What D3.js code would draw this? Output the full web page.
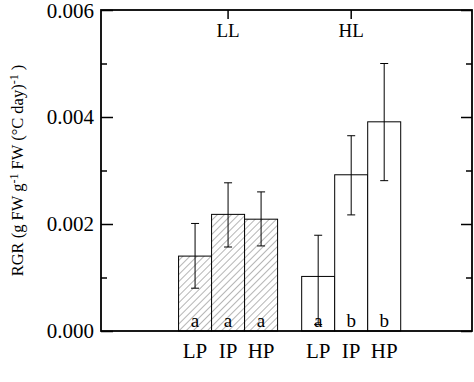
<!DOCTYPE html>
<html>
<head>
<meta charset="utf-8">
<script src="https://cdn.jsdelivr.net/npm/d3@7"></script>
<style>
  body { margin: 0; background: #fff; }
  text { font-family: "Liberation Serif", "DejaVu Serif", serif; fill: #000; }
</style>
</head>
<body>
<div id="chart"></div>
<script>
// data
var groups = ['LL', 'HL'];
var treatments = ['LP', 'IP', 'HP'];
var llMean = [0.00140, 0.00218, 0.00209];
var llLow  = [0.00080, 0.00157, 0.00159];
var llHigh = [0.00201, 0.00277, 0.00260];
var hlMean = [0.00102, 0.00292, 0.00391];
var hlLow  = [0.00012, 0.00217, 0.00281];
var hlHigh = [0.00179, 0.00365, 0.00500];
var llLetters = ['a', 'a', 'a'];
var hlLetters = ['a', 'b', 'b'];
var yTicks = [0, 0.002, 0.004, 0.006];
var yMinor = [0.001, 0.003, 0.005];

var width = 474, height = 382;
var margin = {left: 101, right: 2, top: 10, bottom: 51};
var gap = 0.73; // spacing between the two groups, in bar widths

var bars = [];
treatments.forEach((t, i) => bars.push({g: 'LL', t: t, pos: i, v: llMean[i], lo: llLow[i], hi: llHigh[i], l: llLetters[i]}));
treatments.forEach((t, i) => bars.push({g: 'HL', t: t, pos: 3 + gap + i, v: hlMean[i], lo: hlLow[i], hi: hlHigh[i], l: hlLetters[i]}));

var svg = d3.select('#chart').append('svg')
    .attr('width', width)
    .attr('height', height);

var x = d3.scaleLinear().domain([-2.85, 8.39]).range([margin.left, width - margin.right]);
var y = d3.scaleLinear().domain([0, 0.006]).range([height - margin.bottom, margin.top]);
var bw = x(1) - x(0);

var defs = svg.append('defs');
var pat = defs.append('pattern')
    .attr('id', 'hatch')
    .attr('patternUnits', 'userSpaceOnUse')
    .attr('width', 5).attr('height', 5)
    .attr('patternTransform', 'rotate(45)');
pat.append('rect').attr('width', 5).attr('height', 5).attr('fill', '#fff');
pat.append('line')
    .attr('x1', 0).attr('y1', 0).attr('x2', 0).attr('y2', 5)
    .attr('stroke', '#777').attr('stroke-width', 1.1);

// bars
svg.append('g').selectAll('rect').data(bars).enter()
    .append('rect')
    .attr('x', d => x(d.pos) - bw / 2)
    .attr('y', d => y(d.v))
    .attr('width', bw)
    .attr('height', d => y(0) - y(d.v))
    .attr('fill', d => d.g == 'LL' ? 'url(#hatch)' : '#fff')
    .attr('stroke', '#000')
    .attr('stroke-width', 1);

// letters inside bars
svg.append('g').selectAll('text').data(bars).enter()
    .append('text')
    .attr('x', d => x(d.pos))
    .attr('y', y(0) - 4)
    .attr('text-anchor', 'middle')
    .style('font-size', '19px')
    .text(d => d.l);

// error bars
var err = svg.append('g').attr('stroke', '#000').attr('stroke-width', 1).attr('fill', 'none');
err.selectAll('line.v').data(bars).enter().append('line').attr('class', 'v')
    .attr('x1', d => x(d.pos)).attr('x2', d => x(d.pos))
    .attr('y1', d => y(d.lo)).attr('y2', d => y(d.hi));
err.selectAll('line.t').data(bars).enter().append('line').attr('class', 't')
    .attr('x1', d => x(d.pos) - 4).attr('x2', d => x(d.pos) + 4)
    .attr('y1', d => y(d.hi)).attr('y2', d => y(d.hi));
err.selectAll('line.b').data(bars).enter().append('line').attr('class', 'b')
    .attr('x1', d => x(d.pos) - 4).attr('x2', d => x(d.pos) + 4)
    .attr('y1', d => y(d.lo)).attr('y2', d => y(d.lo));

// frame
svg.append('rect')
    .attr('x', x.range()[0]).attr('y', y.range()[1])
    .attr('width', x.range()[1] - x.range()[0])
    .attr('height', y.range()[0] - y.range()[1])
    .attr('fill', 'none').attr('stroke', '#000').attr('stroke-width', 1.8);

// left axis
var left = svg.append('g').attr('transform', `translate(${x.range()[0]},0)`)
    .call(d3.axisRight(y).tickValues(yTicks).tickSize(12).tickFormat(''));
left.select('.domain').remove();
left.selectAll('line').attr('stroke-width', 1.5);
svg.append('g').selectAll('text').data(yTicks).enter().append('text')
    .attr('x', x.range()[0] - 7)
    .attr('y', d => Math.max(y(d), 11))
    .attr('dy', '0.35em')
    .attr('text-anchor', 'end')
    .style('font-size', '21px')
    .text(d3.format('.3f'));
var leftMinor = svg.append('g').attr('transform', `translate(${x.range()[0]},0)`)
    .call(d3.axisRight(y).tickValues(yMinor).tickSize(6).tickFormat(''));
leftMinor.select('.domain').remove();
leftMinor.selectAll('line').attr('stroke-width', 1.5);

// right axis
var right = svg.append('g').attr('transform', `translate(${x.range()[1]},0)`)
    .call(d3.axisLeft(y).tickValues(yTicks).tickSize(11).tickFormat(''));
right.select('.domain').remove();
right.selectAll('line').attr('stroke-width', 1.5);
var rightMinor = svg.append('g').attr('transform', `translate(${x.range()[1]},0)`)
    .call(d3.axisLeft(y).tickValues(yMinor).tickSize(6).tickFormat(''));
rightMinor.select('.domain').remove();
rightMinor.selectAll('line').attr('stroke-width', 1.5);

// top axis: group ticks and labels
var groupPos = [1, 4 + gap];
var topAxis = svg.append('g').attr('transform', `translate(0,${y.range()[1]})`);
topAxis.selectAll('line').data(groupPos).enter().append('line')
    .attr('x1', d => x(d)).attr('x2', d => x(d))
    .attr('y1', 0).attr('y2', 9)
    .attr('stroke', '#000').attr('stroke-width', 1.5);
topAxis.selectAll('text').data(groups).enter().append('text')
    .attr('x', (d, i) => x(groupPos[i]))
    .attr('y', 27)
    .attr('text-anchor', 'middle')
    .style('font-size', '19px')
    .text(d => d);

// bottom labels
svg.append('g').selectAll('text').data(bars).enter().append('text')
    .attr('x', d => x(d.pos))
    .attr('y', y(0) + 27)
    .attr('text-anchor', 'middle')
    .style('font-size', '21px')
    .text(d => d.t);

// y label
var yl = svg.append('text')
    .attr('transform', `translate(23,${(y.range()[0] + y.range()[1]) / 2})rotate(-90)`)
    .attr('text-anchor', 'middle')
    .style('font-size', '16.5px');
yl.append('tspan').text('RGR (g FW g');
yl.append('tspan').attr('baseline-shift', '45%').style('font-size', '12px').text('-1');
yl.append('tspan').text(' FW (°C day)');
yl.append('tspan').attr('baseline-shift', '45%').style('font-size', '12px').text('-1');
yl.append('tspan').text(' )');
</script>
</body>
</html>
